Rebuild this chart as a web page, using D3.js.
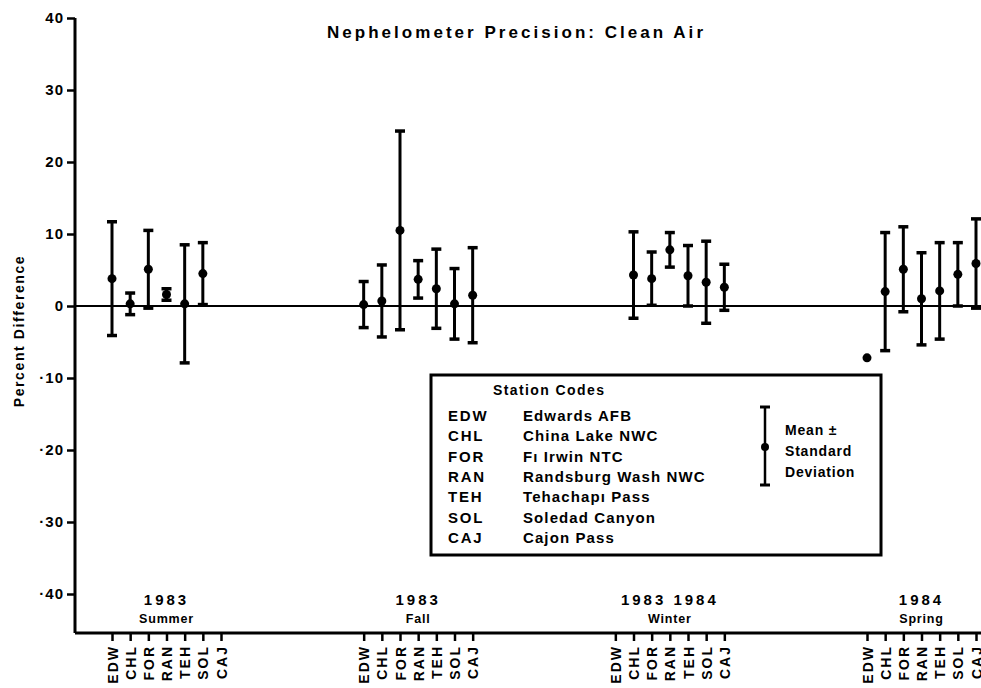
<!DOCTYPE html>
<html>
<head>
<meta charset="utf-8">
<script src="https://cdn.jsdelivr.net/npm/d3@7"></script>
<style>
  body { margin: 0; background: #fff; }
  svg { display: block; font-family: "Liberation Sans", Arial, sans-serif; font-weight: bold; }
</style>
</head>
<body>
<div id="chart"></div>
<script>
// data
const stations = ["EDW", "CHL", "FOR", "RAN", "TEH", "SOL", "CAJ"];
const seasons = ["Summer", "Fall", "Winter", "Spring"];
const seasonYears = ["1983", "1983", "1983 1984", "1984"];
const yTicks = [40, 30, 20, 10, 0, -10, -20, -30, -40];

const summerMean = [3.8, 0.3, 5.1, 1.6, 0.3, 4.5, null];
const summerSd   = [7.9, 1.5, 5.4, 0.8, 8.2, 4.3, null];
const fallMean   = [0.2, 0.7, 10.5, 3.7, 2.4, 0.3, 1.5];
const fallSd     = [3.2, 5.0, 13.8, 2.6, 5.5, 4.9, 6.6];
const winterMean = [null, 4.3, 3.8, 7.8, 4.2, 3.3, 2.6];
const winterSd   = [null, 6.0, 3.7, 2.4, 4.2, 5.7, 3.2];
const springMean = [-7.2, 2.0, 5.1, 1.0, 2.1, 4.4, 5.9];
const springSd   = [null, 8.2, 5.9, 6.4, 6.7, 4.4, 6.2];

const legendNames = ["Edwards AFB", "China Lake NWC", "F\u0131  Irwin NTC", "Randsburg Wash NWC",
  "Tehachap\u0131 Pass", "Soledad Canyon", "Cajon Pass"];

const means = [summerMean, fallMean, winterMean, springMean];
const sds = [summerSd, fallSd, winterSd, springSd];

const width = 981, height = 688;
const axisX = 75, baseY = 633;
const fontFam = "Liberation Sans, Arial, sans-serif";

const svg = d3.select("#chart").append("svg")
  .attr("width", width)
  .attr("height", height);

const y = d3.scaleLinear().domain([-40, 40]).range([594, 18]);
const x0 = d3.scalePoint().domain(seasons).range([112, 867]);
const x1 = d3.scalePoint().domain(stations).range([0, 109]);

// flatten into points
let points = [];
seasons.forEach((s, si) => {
  stations.forEach((st, i) => {
    if (means[si][i] == null) return;
    points.push({ season: s, station: st, mean: means[si][i], sd: sds[si][i] });
  });
});

// title
svg.append("text")
  .attr("x", 327).attr("y", 38)
  .attr("font-size", 17)
  .attr("textLength", 376)
  .attr("lengthAdjust", "spacing")
  .text("Nephelometer Precision:  Clean Air");

// y axis
const yAxis = svg.append("g")
  .attr("transform", `translate(${axisX},0)`)
  .call(d3.axisLeft(y).tickValues(yTicks).tickSize(8).tickSizeOuter(0).tickFormat(d => d < 0 ? "\u00b7" + (-d) : d));
yAxis.select(".domain").remove();
yAxis.selectAll("line").attr("stroke-width", 2.5);
yAxis.selectAll("text")
  .attr("font-size", 15)
  .attr("font-weight", "bold")
  .attr("font-family", fontFam)
  .attr("letter-spacing", 1)
  .attr("fill", "#000");

svg.append("line")
  .attr("x1", axisX).attr("x2", axisX)
  .attr("y1", y(40)).attr("y2", baseY)
  .attr("stroke", "#000").attr("stroke-width", 3);

svg.append("text")
  .attr("transform", `translate(24,${331}) rotate(-90)`)
  .attr("text-anchor", "middle")
  .attr("font-size", 14)
  .attr("letter-spacing", 1.6)
  .text("Percent Difference");

// zero line
svg.append("line")
  .attr("x1", axisX).attr("x2", width)
  .attr("y1", y(0)).attr("y2", y(0))
  .attr("stroke", "#000").attr("stroke-width", 2);

// bottom baseline
svg.append("line")
  .attr("x1", axisX).attr("x2", width)
  .attr("y1", baseY).attr("y2", baseY)
  .attr("stroke", "#000").attr("stroke-width", 3);

// station axes per season
seasons.forEach((s, si) => {
  const g = svg.append("g")
    .attr("transform", `translate(${x0(s)},${baseY})`)
    .call(d3.axisBottom(x1).tickSize(8).tickSizeOuter(0));
  g.select(".domain").remove();
  g.selectAll("line").attr("stroke-width", 2.5);
  g.selectAll("text")
    .attr("font-size", 14)
    .attr("font-weight", "bold")
    .attr("font-family", fontFam)
    .attr("letter-spacing", 2)
    .attr("fill", "#000")
    .attr("text-anchor", "end")
    .attr("transform", "rotate(-90)")
    .attr("x", -12)
    .attr("y", 0)
    .attr("dy", "0.36em");

  const cx = x0(s) + 54.5;
  svg.append("text")
    .attr("x", cx).attr("y", 605)
    .attr("text-anchor", "middle")
    .attr("font-size", 15)
    .attr("letter-spacing", 3)
    .text(seasonYears[si]);
  svg.append("text")
    .attr("x", cx).attr("y", 623)
    .attr("text-anchor", "middle")
    .attr("font-size", 12.5)
    .attr("letter-spacing", 0.8)
    .text(s);
});

// error bars
const px = d => x0(d.season) + x1(d.station);
const bars = points.filter(d => d.sd != null);

svg.append("g").selectAll("line")
  .data(bars).enter().append("line")
  .attr("x1", px).attr("x2", px)
  .attr("y1", d => y(d.mean + d.sd))
  .attr("y2", d => y(d.mean - d.sd))
  .attr("stroke", "#000").attr("stroke-width", 3);

svg.append("g").selectAll("line")
  .data(bars.flatMap(d => [{ d, v: d.mean + d.sd }, { d, v: d.mean - d.sd }]))
  .enter().append("line")
  .attr("x1", e => px(e.d) - 5).attr("x2", e => px(e.d) + 5)
  .attr("y1", e => y(e.v)).attr("y2", e => y(e.v))
  .attr("stroke", "#000").attr("stroke-width", 3.5);

svg.append("g").selectAll("circle")
  .data(points).enter().append("circle")
  .attr("cx", px)
  .attr("cy", d => y(d.mean))
  .attr("r", 4.5)
  .attr("fill", "#000");

// legend
const lg = svg.append("g");
lg.append("rect")
  .attr("x", 431).attr("y", 375)
  .attr("width", 450).attr("height", 180)
  .attr("fill", "#fff")
  .attr("stroke", "#000").attr("stroke-width", 3);

lg.append("text")
  .attr("x", 493).attr("y", 395)
  .attr("font-size", 14)
  .attr("letter-spacing", 1.4)
  .text("Station Codes");

stations.forEach((st, i) => {
  lg.append("text")
    .attr("x", 448).attr("y", 421 + i * 20.3)
    .attr("font-size", 15)
    .attr("letter-spacing", 1.8)
    .text(st);
  lg.append("text")
    .attr("x", 523).attr("y", 421 + i * 20.3)
    .attr("font-size", 15)
    .attr("letter-spacing", 1.1)
    .text(legendNames[i]);
});

lg.append("line")
  .attr("x1", 765).attr("x2", 765)
  .attr("y1", 407).attr("y2", 485)
  .attr("stroke", "#000").attr("stroke-width", 2.5);
[407, 485].forEach(v => lg.append("line")
  .attr("x1", 760).attr("x2", 770)
  .attr("y1", v).attr("y2", v)
  .attr("stroke", "#000").attr("stroke-width", 3));
lg.append("circle")
  .attr("cx", 765).attr("cy", 447).attr("r", 4)
  .attr("fill", "#000");

["Mean \u00b1", "Standard", "Deviation"].forEach((t, i) => {
  lg.append("text")
    .attr("x", 785).attr("y", 435 + i * 21)
    .attr("font-size", 14)
    .attr("letter-spacing", 0.8)
    .text(t);
});
</script>
</body>
</html>
